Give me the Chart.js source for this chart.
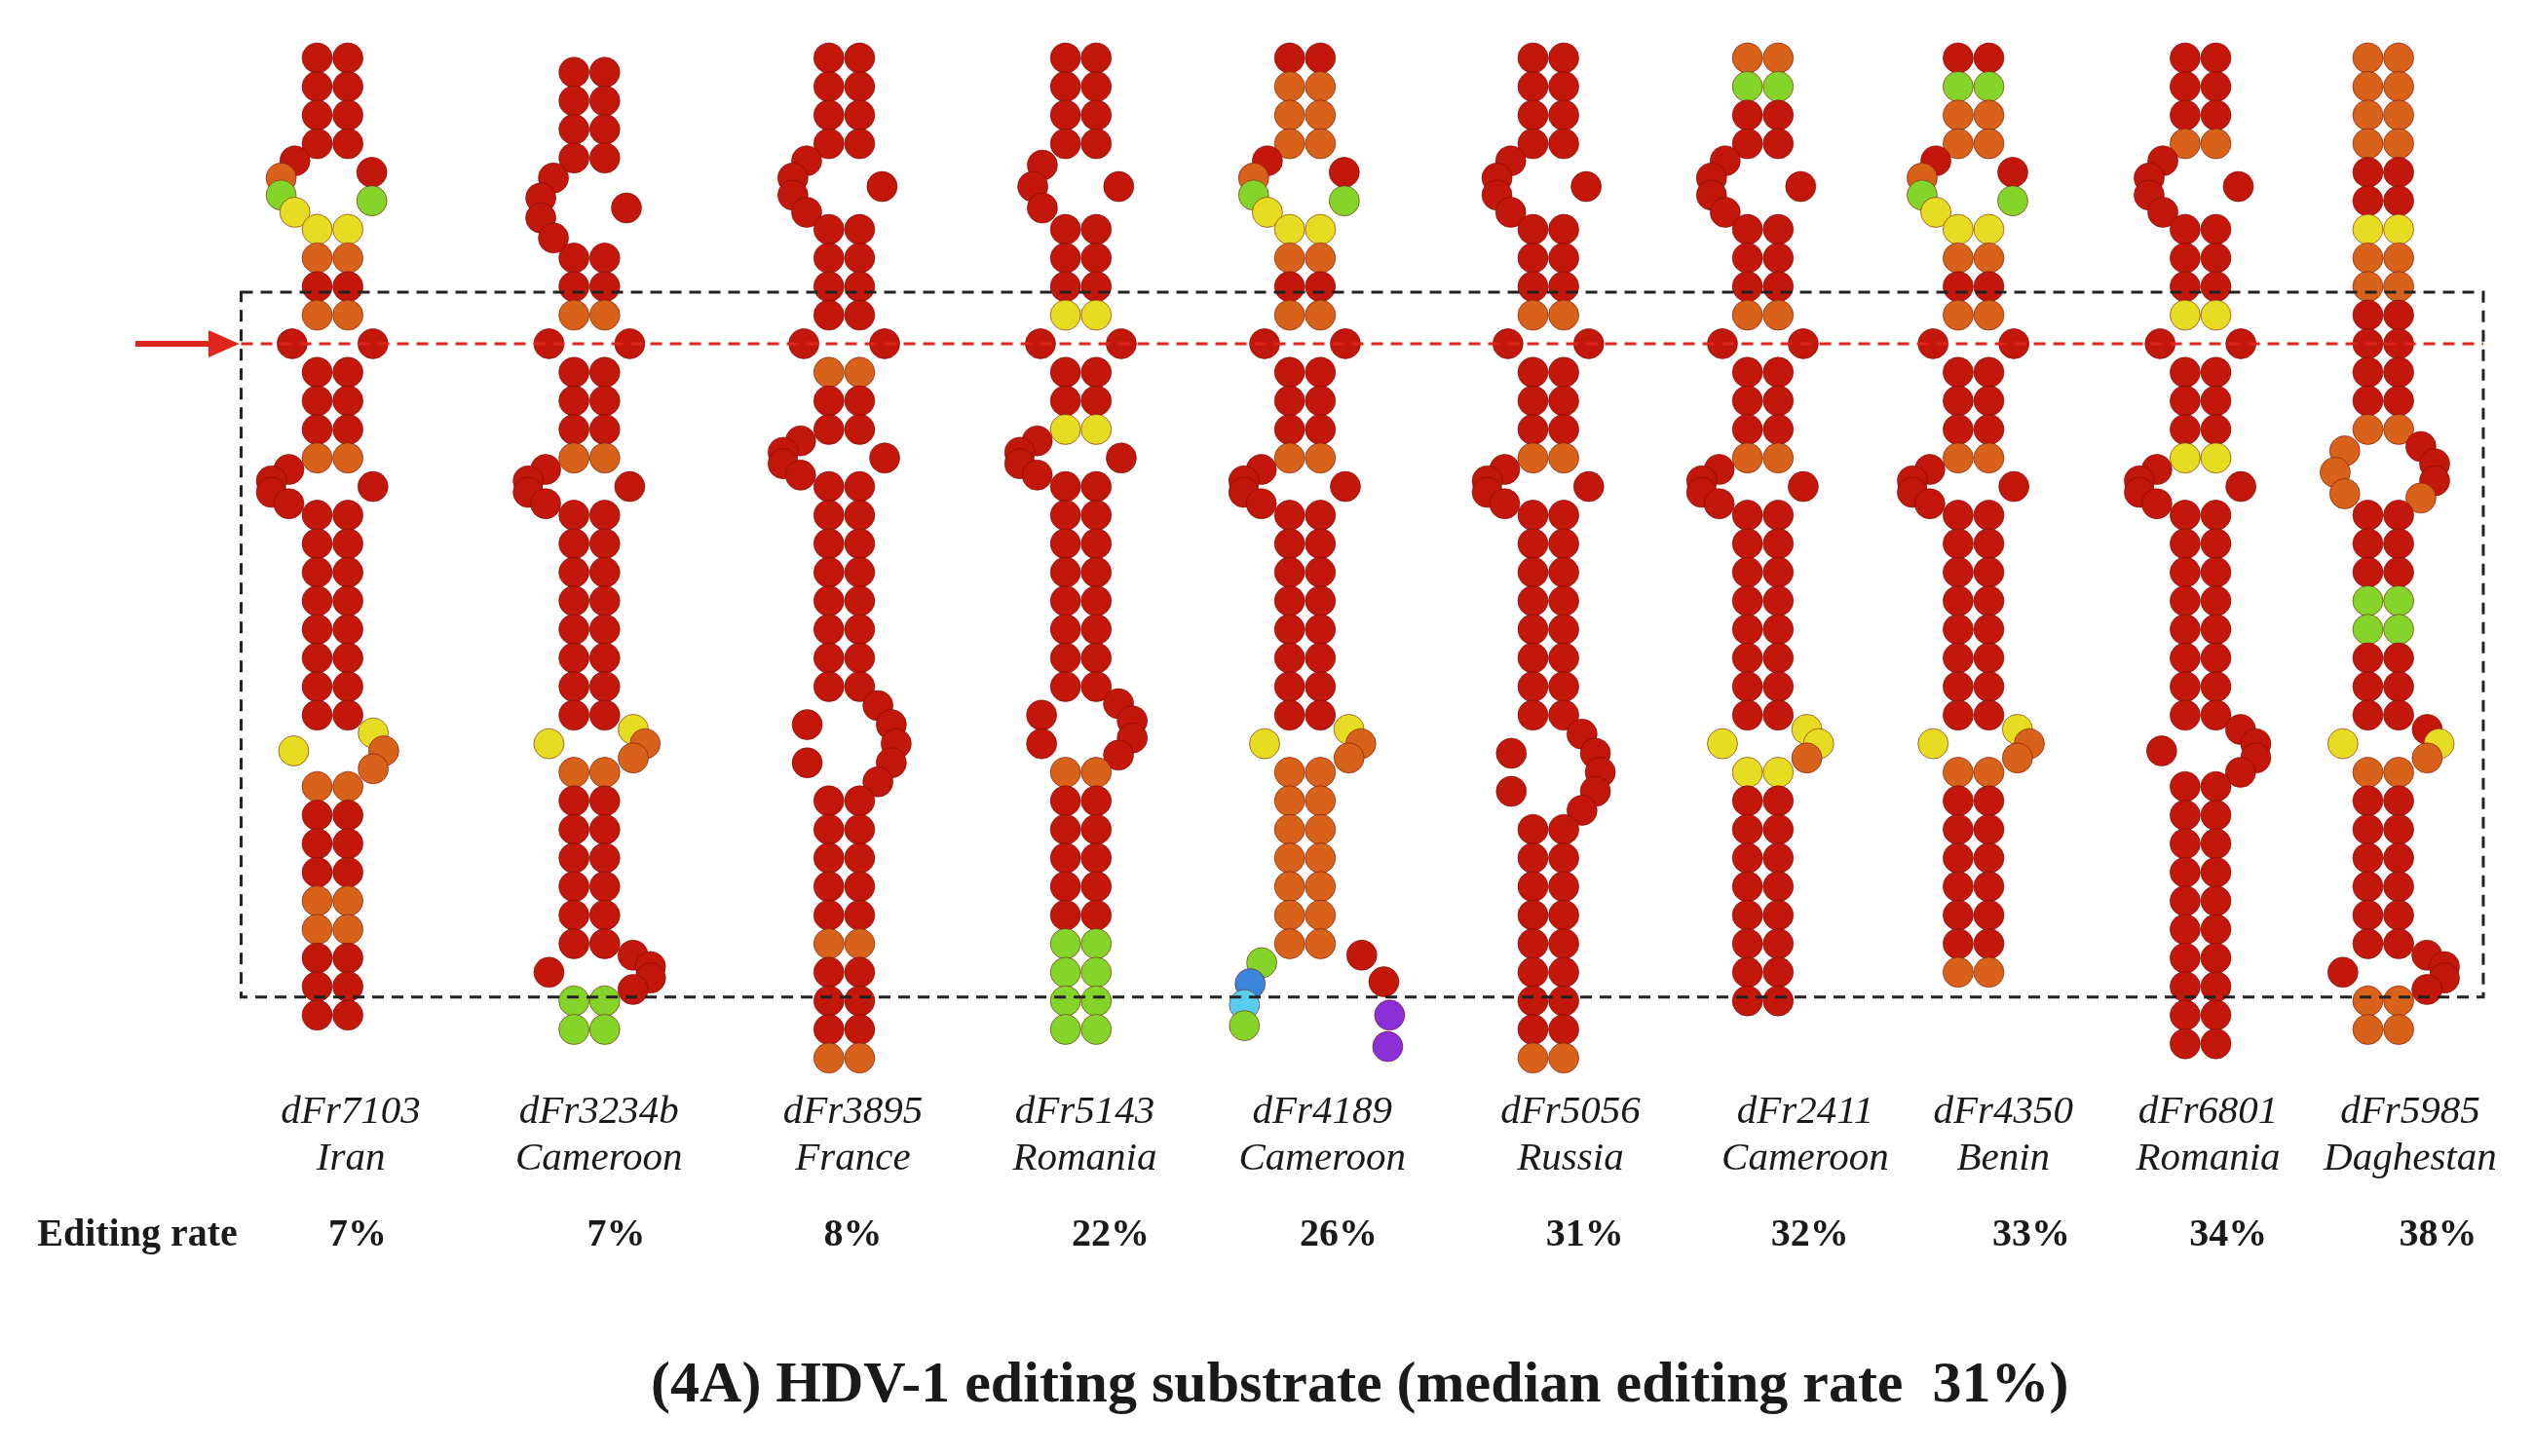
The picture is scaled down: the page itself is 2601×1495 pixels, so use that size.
<!DOCTYPE html>
<html>
<head>
<meta charset="utf-8">
<script src="https://cdn.jsdelivr.net/npm/chart.js@4"></script>
<style>
  body { margin: 0; background: #fff; }
  #wrap { width: 2601px; height: 1495px; }
</style>
</head>
<body>
<div id="wrap"><canvas id="rna"></canvas></div>
<script>
// isolados e taxas
const names = ['dFr7103', 'dFr3234b', 'dFr3895', 'dFr5143', 'dFr4189', 'dFr5056', 'dFr2411', 'dFr4350', 'dFr6801', 'dFr5985'];
const countries = ['Iran', 'Cameroon', 'France', 'Romania', 'Cameroon', 'Russia', 'Cameroon', 'Benin', 'Romania', 'Daghestan'];
const rates = ['7%', '7%', '8%', '22%', '26%', '31%', '32%', '33%', '34%', '38%'];

// estrutura: número = linhas pareadas, [esq, dir, altura] = alça interna, '|' = posição da seta, 'F' = bifurcação
const structures = [
  [4, [4, 2, 3], 4, '|', [1, 1, 2], 4, [4, 1, 2], 8, [1, 3, 2.5], 9],
  [4, [4, 1, 3.5], 3, '|', [1, 1, 2], 4, [4, 1, 2], 8, [1, 3, 2], 7, [1, 4, 2], 2],
  [4, [4, 1, 3], 4, '|', [1, 1, 2], 3, [4, 1, 2], 8, [2, 5, 4], 10],
  [4, [3, 1, 3], 4, '|', [1, 1, 2], 3, [4, 1, 2], 8, [2, 4, 3], 10],
  [4, [4, 2, 3], 4, '|', [1, 1, 2], 4, [4, 1, 2], 8, [1, 3, 2], 7, 'F'],
  [4, [4, 1, 3], 4, '|', [1, 1, 2], 4, [4, 1, 2], 8, [2, 5, 4], 9],
  [4, [4, 1, 3], 4, '|', [1, 1, 2], 4, [4, 1, 2], 8, [1, 3, 2], 9],
  [4, [4, 2, 3], 4, '|', [1, 1, 2], 4, [4, 1, 2], 8, [1, 3, 2], 8],
  [4, [4, 1, 3], 4, '|', [1, 1, 2], 4, [4, 1, 2], 8, [1, 4, 2.5], 10],
  [10, '|', 4, [3, 4, 3], 8, [1, 3, 2], 7, [1, 4, 2], 2]
];

// cores por linha pareada (r vermelho, o laranja, y amarelo, g verde)
const stemColors = [
  'rrrr' + 'yoro' + 'rrro' + 'rrrrrrrr' + 'orrroorrr',
  'rrrr' + 'rro' + 'rrro' + 'rrrrrrrr' + 'orrrrrr' + 'gg',
  'rrrr' + 'rrrr' + 'orr' + 'rrrrrrrr' + 'rrrrrorrro',
  'rrrr' + 'rrry' + 'rry' + 'rrrrrrrr' + 'orrrrrgggg',
  'rooo' + 'yoro' + 'rrro' + 'rrrrrrrr' + 'ooooooo',
  'rrrr' + 'rrro' + 'rrro' + 'rrrrrrrr' + 'rrrrrrrro',
  'ogrr' + 'rrro' + 'rrro' + 'rrrrrrrr' + 'yrrrrrrrr',
  'rgoo' + 'yoro' + 'rrro' + 'rrrrrrrr' + 'orrrrrro',
  'rrro' + 'rrry' + 'rrry' + 'rrrrrrrr' + 'rrrrrrrrrr',
  'oooorryoor' + 'rrro' + 'rrrggrrr' + 'orrrrrr' + 'oo'
];
const loopColors = [
  [['rogy', 'rg'], ['r', 'r'], ['rrrr', 'r'], ['y', 'yoo']],
  [['rrrr', 'r'], ['r', 'r'], ['rrrr', 'r'], ['y', 'yoo'], ['r', 'rrrr']],
  [['rrrr', 'r'], ['r', 'r'], ['rrrr', 'r'], ['rr', 'rrrrr']],
  [['rrr', 'r'], ['r', 'r'], ['rrrr', 'r'], ['rr', 'rrrr']],
  [['rogy', 'rg'], ['r', 'r'], ['rrrr', 'r'], ['y', 'yoo']],
  [['rrrr', 'r'], ['r', 'r'], ['rrrr', 'r'], ['rr', 'rrrrr']],
  [['rrrr', 'r'], ['r', 'r'], ['rrrr', 'r'], ['y', 'yyo']],
  [['rogy', 'rg'], ['r', 'r'], ['rrrr', 'r'], ['y', 'yoo']],
  [['rrrr', 'r'], ['r', 'r'], ['rrrr', 'r'], ['r', 'rrrr']],
  [['ooo', 'rrro'], ['y', 'ryo'], ['r', 'rrrr']]
];
const forkColors = ['gbcg', 'rrpp'];

const palette = { r: '#c3170c', o: '#d8621a', y: '#e6dc22', g: '#84d42a', b: '#3b86dc', c: '#58cdf0', p: '#8b2fd6' };

// geometria
const centers = [329, 596, 861, 1107, 1340, 1593, 1816, 2035, 2271, 2461];
const labelX = [348, 606, 870, 1111, 1358, 1616, 1860, 2066, 2279, 2489];
const rateX = [355, 624, 870, 1138, 1375, 1631, 1865, 2095, 2300, 2518];
const ROW = 30, HALF = 16, LINE_Y = 344;

function layout(tokens, stems, loops, cx) {
  let y = 0, first = true, si = 0, li = 0, markY = 0;
  const pts = [];
  tokens.forEach(t => {
    if (t === '|') { markY = y + ROW; return; }
    if (t === 'F') {
      const dl = [[-29, 20], [-41, 42], [-47, 64], [-47, 86]];
      const dr = [[43, 12], [66, 40], [72, 75], [70, 108]];
      dl.forEach((d, k) => pts.push({ x: cx - HALF + d[0], y: y + d[1], c: forkColors[0][k] }));
      dr.forEach((d, k) => pts.push({ x: cx + HALF + d[0], y: y + d[1], c: forkColors[1][k] }));
      return;
    }
    if (typeof t === 'number') {
      for (let k = 0; k < t; k++) {
        if (!first) y += ROW;
        first = false;
        const c = stems[si++] || 'r';
        pts.push({ x: cx - HALF, y: y, c: c });
        pts.push({ x: cx + HALF, y: y, c: c });
      }
      return;
    }
    const [l, r, g] = t;
    const lc = loops[li++];
    [[l, -1, lc[0]], [r, 1, lc[1]]].forEach(([n, side, cols]) => {
      const bulge = 18 + (n / g) * 16;
      for (let k = 1; k <= n; k++) {
        const tt = k / (n + 1);
        pts.push({ x: cx + side * (HALF + bulge * Math.sin(Math.PI * tt)), y: y + g * ROW * tt, c: cols[k - 1] || 'r' });
      }
    });
    y += g * ROW;
    first = true;
  });
  const off = LINE_Y - markY;
  return pts.map(p => ({ x: p.x, y: p.y + off, c: p.c }));
}

const datasets = structures.map((s, i) => {
  const pts = layout(s, stemColors[i], loopColors[i], centers[i]);
  return {
    label: names[i],
    data: pts.map(p => ({ x: p.x, y: p.y })),
    pointRadius: 15.5,
    pointBackgroundColor: pts.map(p => palette[p.c]),
    pointBorderColor: 'rgba(110,10,5,0.55)',
    pointBorderWidth: 1
  };
});

const overlay = {
  id: 'overlay',
  afterDatasetsDraw(chart) {
    const ctx = chart.ctx;
    const sx = chart.scales.x, sy = chart.scales.y;
    const X = v => sx.getPixelForValue(v), Y = v => sy.getPixelForValue(v);
    ctx.save();
    // caixa tracejada
    ctx.setLineDash([12, 8]);
    ctx.lineWidth = 3;
    ctx.strokeStyle = '#222';
    ctx.strokeRect(X(234), Y(290), X(2565) - X(234), Y(1030) - Y(290));
    // linha vermelha
    ctx.strokeStyle = '#e0251c';
    ctx.beginPath();
    ctx.moveTo(X(234), Y(LINE_Y));
    ctx.lineTo(X(2565), Y(LINE_Y));
    ctx.stroke();
    // seta
    ctx.setLineDash([]);
    ctx.lineWidth = 6;
    ctx.beginPath();
    ctx.moveTo(X(124), Y(LINE_Y));
    ctx.lineTo(X(205), Y(LINE_Y));
    ctx.stroke();
    ctx.fillStyle = '#e0251c';
    ctx.beginPath();
    ctx.moveTo(X(232), Y(LINE_Y));
    ctx.lineTo(X(200), Y(LINE_Y) - 14);
    ctx.lineTo(X(200), Y(LINE_Y) + 14);
    ctx.closePath();
    ctx.fill();
    // textos
    ctx.fillStyle = '#1a1a1a';
    ctx.textAlign = 'center';
    ctx.textBaseline = 'middle';
    ctx.font = 'italic 41px "Liberation Serif"';
    names.forEach((n, i) => {
      ctx.fillText(n, X(labelX[i]), Y(1151));
      ctx.fillText(countries[i], X(labelX[i]), Y(1200));
    });
    ctx.font = 'bold 40px "Liberation Serif"';
    rates.forEach((r, i) => ctx.fillText(r, X(rateX[i]), Y(1280)));
    ctx.textAlign = 'left';
    ctx.fillText('Editing rate', X(22), Y(1280));
    ctx.textAlign = 'center';
    ctx.font = 'bold 60px "Liberation Serif"';
    ctx.fillText('(4A) HDV-1 editing substrate (median editing rate  31%)', X(1397), Y(1439));
    ctx.restore();
  }
};

new Chart(document.getElementById('rna'), {
  type: 'scatter',
  data: { datasets },
  options: {
    responsive: true,
    maintainAspectRatio: false,
    animation: false,
    layout: { padding: 0 },
    scales: {
      x: { type: 'linear', min: 0, max: 2601, display: false },
      y: { type: 'linear', min: 0, max: 1495, reverse: true, display: false }
    },
    plugins: { legend: { display: false }, tooltip: { enabled: false } }
  },
  plugins: [overlay]
});
</script>
</body>
</html>
